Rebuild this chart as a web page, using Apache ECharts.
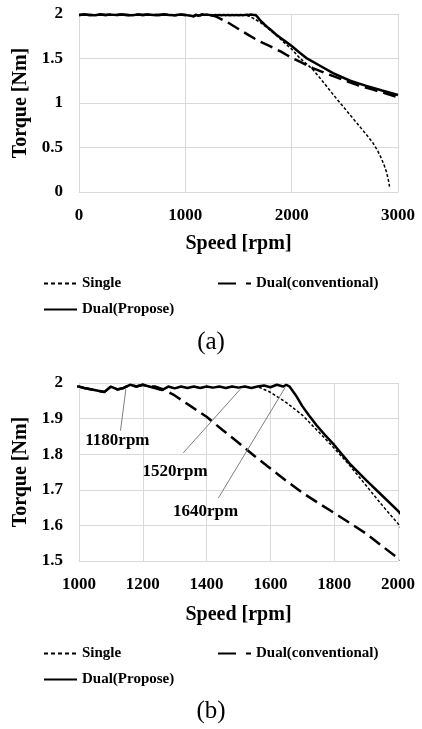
<!DOCTYPE html>
<html><head><meta charset="utf-8">
<script src="https://cdn.jsdelivr.net/npm/echarts@6/dist/echarts.min.js"></script>
<style>html,body{margin:0;padding:0;background:#fff}#c{width:422px;height:729px}</style>
</head><body><div id="c"></div>
<script>
// Flat (constant torque) region, shared by all three curves until each departs
const flatSpeed = [0,50,100,150,200,250,300,350,400,450,500,550,600,650,700,750,800,850,900,950,
  1000,1020,1040,1060,1080,1100,1120,1140,1160,1180,1200,1220,1240,1260,1280,1300,1320,1340,1360,1380,
  1400,1420,1440,1460,1480,1500,1520,1540,1560,1580,1600,1620,1640];
const flatTorque = [1.99,1.995,1.99,1.985,1.995,1.99,1.993,1.988,1.995,1.99,1.985,1.993,1.99,1.995,1.988,1.99,1.995,1.99,1.985,1.993,
  1.99,1.985,1.982,1.978,1.975,1.99,1.982,1.986,1.995,1.99,1.995,1.99,1.985,1.98,1.99,1.985,1.99,1.986,1.99,1.986,
  1.99,1.987,1.99,1.986,1.99,1.987,1.99,1.986,1.99,1.993,1.988,1.995,1.99];

// Departure speeds
const singleStart = 1560, convStart = 1240, proposeStart = 1650;

// Single
const singleSpeed = [1560,1600,1650,1700,1754,1800,1850,1900,1950,2000,2076,2150,2203,2260,2327,2400,2484,2560,2640,2700,2765,2810,2843,2870,2890,2905,2915,2920];
const singleTorque = [1.99,1.974,1.945,1.91,1.86,1.817,1.767,1.712,1.657,1.605,1.505,1.43,1.37,1.29,1.19,1.08,0.96,0.85,0.735,0.65,0.55,0.46,0.38,0.30,0.23,0.16,0.10,0.06];

// Dual (conventional)
const convSpeed = [1240,1270,1300,1350,1400,1450,1500,1550,1600,1650,1700,1750,1800,1850,1900,1950,2000,2100,2203,2350,2484,2620,2765,2880,3000];
const convTorque = [1.99,1.98,1.965,1.935,1.905,1.868,1.832,1.795,1.76,1.725,1.692,1.663,1.635,1.606,1.577,1.542,1.508,1.45,1.39,1.32,1.26,1.2,1.15,1.11,1.065];

// Dual (Propose)
const proposeSpeed = [1650,1660,1680,1700,1720,1744,1770,1800,1850,1900,1950,2000,2070,2139,2250,2389,2550,2702,2850,3000];
const proposeTorque = [1.995,1.99,1.965,1.935,1.91,1.882,1.855,1.826,1.772,1.727,1.684,1.641,1.57,1.505,1.43,1.336,1.25,1.193,1.14,1.09];

const seriesNames = ['Single','Dual(conventional)','Dual(Propose)'];

// Tick settings
const xTicksA = [0, 3000, 1000];
const yTicksA = [0, 2, 0.5];
const xTicksB = [1000, 2000, 200];
const yTicksB = [1.5, 2, 0.1];

// Annotations on chart (b)
const annoText = ['1180rpm','1520rpm','1640rpm'];
const annoLabelSpeed = [1122,1303,1398];
const annoLabelTorque = [1.838,1.750,1.637];
const annoFromSpeed = [1130,1327,1437];
const annoFromTorque = [1.866,1.804,1.677];
const annoToSpeed = [1147,1505,1646];
const annoToTorque = [1.983,1.982,1.987];

const FF = "'Liberation Serif','Times New Roman',serif";

function build(start, sp, tq) {
  const out = [];
  flatSpeed.forEach((s, i) => { if (s < start) out.push([s, flatTorque[i]]); });
  sp.forEach((s, i) => out.push([s, tq[i]]));
  return out;
}
const dataSingle = build(singleStart, singleSpeed, singleTorque);
const dataConv = build(convStart, convSpeed, convTorque);
const dataPropose = build(proposeStart, proposeSpeed, proposeTorque);

const styles = [
  {width: 1.5, type: [3, 2]},
  {width: 2.5, type: [13, 6]},
  {width: 2.5, type: 'solid'}
];
const dataAll = [dataSingle, dataConv, dataPropose];

const gridColor = '#d9d9d9';
function xAxis(gi, t, gap) {
  return {gridIndex: gi, type: 'value', min: t[0], max: t[1], interval: t[2],
    axisLine: {show: true, lineStyle: {color: gridColor}}, axisTick: {show: false},
    splitLine: {show: true, lineStyle: {color: gridColor}},
    axisLabel: {margin: 15, fontSize: 17, fontWeight: 'bold', fontFamily: FF, color: '#000', formatter: v => String(v)},
    name: 'Speed [rpm]', nameLocation: 'middle', nameGap: gap,
    nameTextStyle: {fontSize: 20, fontWeight: 'bold', fontFamily: FF, color: '#000'}};
}
function yAxis(gi, t, fmt) {
  return {gridIndex: gi, type: 'value', min: t[0], max: t[1], interval: t[2],
    axisLine: {show: true, lineStyle: {color: gridColor}}, axisTick: {show: false},
    splitLine: {show: true, lineStyle: {color: gridColor}},
    axisLabel: {margin: 16, fontSize: 17, fontWeight: 'bold', fontFamily: FF, color: '#000', formatter: fmt},
    name: 'Torque [Nm]', nameLocation: 'middle', nameGap: 44, nameRotate: 90,
    nameTextStyle: {fontSize: 20, fontWeight: 'bold', fontFamily: FF, color: '#000'}};
}
function legend(name, left, top, dash) {
  return {data: [name], left: left, top: top, padding: 0, itemWidth: 33, itemHeight: 14, itemGap: 0,
    selectedMode: false,
    textStyle: {fontFamily: FF, fontWeight: 'bold', fontSize: 15, color: '#000'},
    itemStyle: {opacity: 0}, lineStyle: {type: dash}};
}

const series = [];
[0, 1].forEach(gi => {
  seriesNames.forEach((n, k) => {
    series.push({name: n, type: 'line', xAxisIndex: gi, yAxisIndex: gi, data: dataAll[k],
      symbol: 'none', clip: true, silent: true,
      lineStyle: {color: '#000', width: styles[k].width, type: styles[k].type},
      itemStyle: {color: '#000'}});
  });
});
series.push({
  name: 'anno', type: 'scatter', xAxisIndex: 1, yAxisIndex: 1, symbolSize: 1, silent: true,
  itemStyle: {opacity: 0},
  data: annoText.map((t, i) => ({name: t, value: [annoLabelSpeed[i], annoLabelTorque[i]]})),
  label: {show: true, position: [0, 0], align: 'center', verticalAlign: 'middle',
    formatter: p => p.name, fontFamily: FF, fontWeight: 'bold', fontSize: 17,
    color: '#000', textBorderWidth: 0, opacity: 1},
  markLine: {silent: true, symbol: ['none', 'none'], animation: false,
    lineStyle: {color: '#7f7f7f', width: 1, type: 'solid', opacity: 1}, label: {show: false},
    data: annoText.map((t, i) => [{coord: [annoFromSpeed[i], annoFromTorque[i]]}, {coord: [annoToSpeed[i], annoToTorque[i]]}])}
});

const chart = echarts.init(document.getElementById('c'), null, {renderer: 'canvas'});
chart.setOption({
  animation: false,
  backgroundColor: '#fff',
  grid: [
    {left: 79, top: 14, width: 319, height: 178},
    {left: 79, top: 383, width: 319, height: 178}
  ],
  xAxis: [xAxis(0, xTicksA, 42), xAxis(1, xTicksB, 44)],
  yAxis: [yAxis(0, yTicksA), yAxis(1, yTicksB, v => String(Math.round(v * 10) / 10))],
  legend: [
    legend('Single', 43, 276, [4, 3]),
    legend('Dual(conventional)', 217, 276, [18, 10]),
    legend('Dual(Propose)', 43, 302, 'solid'),
    legend('Single', 43, 646, [4, 3]),
    legend('Dual(conventional)', 217, 646, [18, 10]),
    legend('Dual(Propose)', 43, 672, 'solid')
  ],
  graphic: [
    {type: 'text', left: 'center', top: 330, style: {text: '(a)', fontFamily: FF, fontSize: 25, fill: '#000'}},
    {type: 'text', left: 'center', top: 699, style: {text: '(b)', fontFamily: FF, fontSize: 25, fill: '#000'}}
  ],
  series: series
});
</script></body></html>
